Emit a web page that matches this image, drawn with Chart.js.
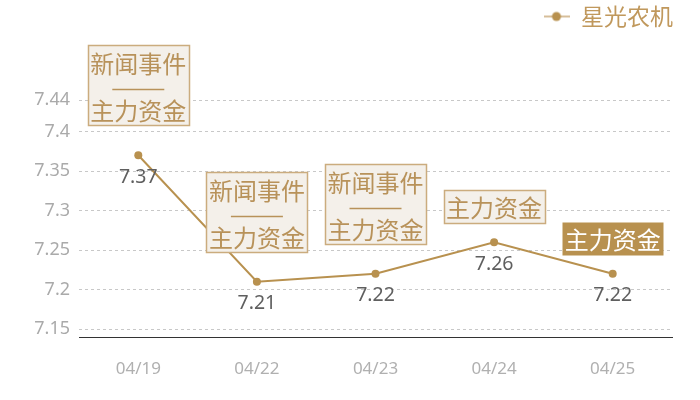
<!DOCTYPE html>
<html lang="zh">
<head>
<meta charset="UTF-8">
<title>星光农机</title>
<script src="https://cdn.jsdelivr.net/npm/chart.js"></script>
<style>
    html, body { margin: 0; padding: 0; background: #fff; }
    #wrap { width: 700px; height: 400px; }
</style>
</head>
<body>
<div id="wrap"><canvas id="chart" width="700" height="400"></canvas></div>
<script>
const dates = ['04/19', '04/22', '04/23', '04/24', '04/25'];
const prices = [7.37, 7.21, 7.22, 7.26, 7.22];
const yTicks = [7.15, 7.2, 7.25, 7.3, 7.35, 7.4, 7.44];
const eventTags = [
    ['新闻事件', '主力资金'],
    ['新闻事件', '主力资金'],
    ['新闻事件', '主力资金'],
    ['主力资金'],
    ['主力资金']
];
const highlightIndex = 4;

const gold = '#b8914f';
const cjk = '"Noto Sans CJK SC", sans-serif';
const num = '"Noto Sans", "Noto Sans CJK SC", sans-serif';

// legend icon: short line with a dot
const legendIcon = document.createElement('canvas');
legendIcon.width = 26;
legendIcon.height = 12;
(function () {
    const c = legendIcon.getContext('2d');
    c.strokeStyle = '#c9a878';
    c.lineWidth = 1.5;
    c.beginPath(); c.moveTo(0, 6); c.lineTo(26, 6); c.stroke();
    c.fillStyle = gold;
    c.beginPath(); c.arc(13, 6, 4.5, 0, Math.PI * 2); c.fill();
})();

// value labels under points + event tag boxes above them
const tagPlugin = {
    id: 'tags',
    afterInit(chart) {
        const lg = chart.legend;
        const fit = lg.fit.bind(lg);
        lg.fit = function () { fit(); lg.height = 100; };
        const draw = lg.draw.bind(lg);
        lg.draw = function () {
            const r = lg.right;
            lg.right = r + 6;
            draw();
            lg.right = r;
        };
    },
    afterDatasetsDraw(chart) {
        const ctx = chart.ctx;
        const pts = chart.getDatasetMeta(0).data;
        ctx.save();
        ctx.textAlign = 'center';
        ctx.textBaseline = 'middle';
        pts.forEach((pt, i) => {
            ctx.font = '19.5px ' + num;
            ctx.fillStyle = '#5f5f5f';
            ctx.fillText(prices[i].toFixed(2), pt.x, pt.y + 22);

            const lines = eventTags[i];
            const w = 101;
            const h = lines.length === 2 ? 80 : 33;
            const gap = lines.length === 2 ? 30 : 19;
            const left = Math.round(pt.x - w / 2) + 0.5;
            const top = Math.round(pt.y - gap - h) + 0.5;
            const hi = i === highlightIndex;
            ctx.fillStyle = hi ? gold : '#f4f0ea';
            ctx.fillRect(left, top, w, h);
            if (!hi) {
                ctx.strokeStyle = '#cbac7e';
                ctx.lineWidth = 1.5;
                ctx.strokeRect(left, top, w, h);
            }
            ctx.fillStyle = hi ? '#fff' : '#b8925a';
            ctx.font = '24px ' + cjk;
            if (lines.length === 2) {
                ctx.fillText(lines[0], pt.x, top + 18);
                ctx.strokeStyle = '#b8925a';
                ctx.lineWidth = 1.5;
                ctx.beginPath();
                ctx.moveTo(pt.x - 26, Math.round(top + 43) + 0.5);
                ctx.lineTo(pt.x + 26, Math.round(top + 43) + 0.5);
                ctx.stroke();
                ctx.fillText(lines[1], pt.x, top + 65);
            } else {
                ctx.fillText(lines[0], pt.x, top + h / 2 + 1);
            }
        });
        ctx.restore();
    }
};

new Chart(document.getElementById('chart'), {
    type: 'line',
    data: {
        labels: dates,
        datasets: [{
            label: '星光农机',
            data: prices,
            borderColor: gold,
            backgroundColor: gold,
            borderWidth: 2,
            pointRadius: 4,
            pointHoverRadius: 4,
            pointBackgroundColor: gold,
            pointBorderWidth: 0,
            tension: 0
        }]
    },
    options: {
        responsive: false,
        animation: false,
        layout: { padding: { left: 0, right: 28, top: 0, bottom: 22 } },
        plugins: {
            tooltip: { enabled: false },
            legend: {
                display: true,
                position: 'top',
                align: 'end',
                labels: {
                    usePointStyle: true,
                    pointStyle: legendIcon,
                    pointStyleWidth: 26,
                    padding: 5,
                    color: '#c0985c',
                    font: { family: cjk, size: 23 }
                }
            }
        },
        scales: {
            x: {
                offset: true,
                afterFit: (axis) => { axis.height = 41; },
                grid: { display: false, drawTicks: false },
                border: { display: true, color: '#333', width: 1 },
                ticks: {
                    padding: 22,
                    color: '#b0b0b0',
                    font: { family: num, size: 17 }
                }
            },
            y: {
                min: 7.14,
                max: 7.44,
                afterBuildTicks: (axis) => { axis.ticks = yTicks.map(v => ({ value: v })); },
                afterFit: (axis) => { axis.width = 79; },
                grid: { color: '#c8c8c8', drawTicks: false },
                border: { display: false, dash: [3, 3] },
                ticks: {
                    padding: 9,
                    color: '#aaaaaa',
                    font: { family: num, size: 18 },
                    callback: (v) => String(v)
                }
            }
        }
    },
    plugins: [tagPlugin]
});
</script>
</body>
</html>
